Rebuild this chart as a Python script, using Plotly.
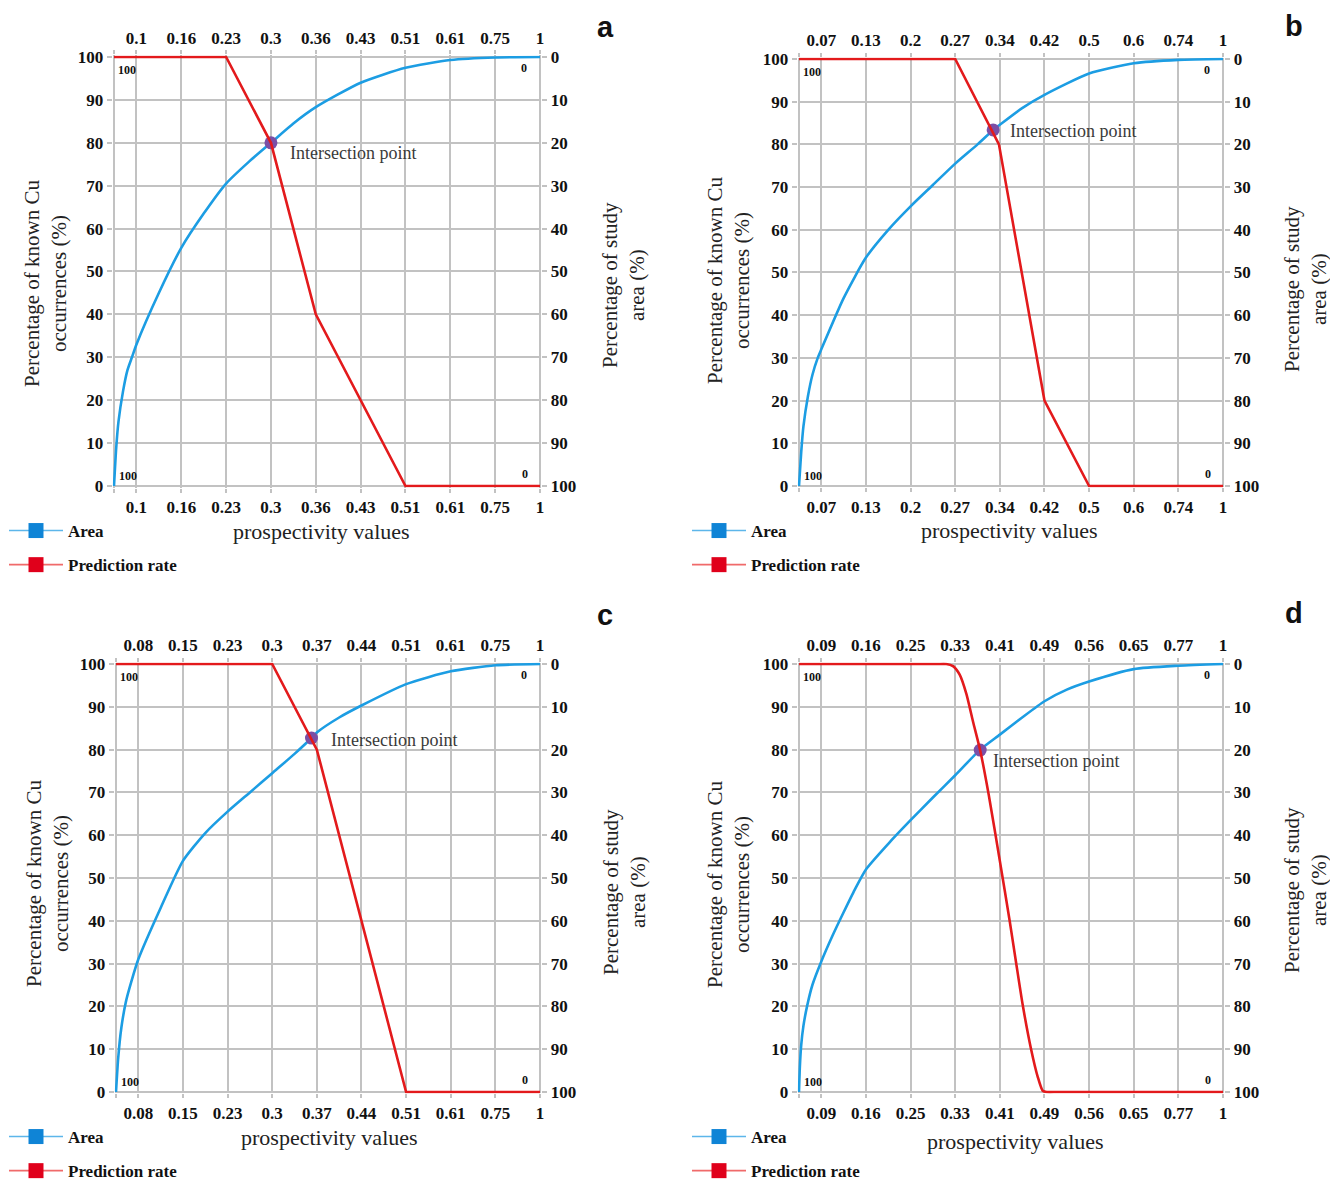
import plotly.graph_objects as go

# the page body adds an 8 px margin, so the figure is a little smaller than the window
OX, OY = 8, 8
W, H = 1330, 1174

# x positions of the 10 labelled prospectivity classes (evenly spaced categories)
class_idx = [1, 2, 3, 4, 5, 6, 7, 8, 9, 10]

# tick labels (prospectivity values) for each panel
ticks_a = ['0.1', '0.16', '0.23', '0.3', '0.36', '0.43', '0.51', '0.61', '0.75', '1']
ticks_b = ['0.07', '0.13', '0.2', '0.27', '0.34', '0.42', '0.5', '0.6', '0.74', '1']
ticks_c = ['0.08', '0.15', '0.23', '0.3', '0.37', '0.44', '0.51', '0.61', '0.75', '1']
ticks_d = ['0.09', '0.16', '0.25', '0.33', '0.41', '0.49', '0.56', '0.65', '0.77', '1']

# Area curves
area_a_x = [0.5, 0.55, 0.6, 0.7, 0.8, 0.9, 1.0, 1.5, 2.0, 2.5, 3.0, 3.5, 4.0, 4.5, 5.0, 6.0, 7.0, 8.0, 9.0, 10.0]
area_a_y = [0, 9, 15, 22, 27, 30, 33, 45, 55.5, 63.5, 70.5, 75.5, 80, 84.5, 88.3, 94, 97.5, 99.3, 99.9, 100]
area_b_x = [0.5, 0.55, 0.6, 0.7, 0.8, 0.92, 1.0, 1.5, 2.0, 2.5, 3.0, 3.5, 4.0, 4.5, 4.85, 5.0, 5.5, 6.0, 7.0, 8.0, 9.0, 10.0]
area_b_y = [0, 8, 14, 21, 26, 30, 32, 44, 53.5, 60, 65.5, 70.5, 75.5, 80, 83.4, 84.6, 88.5, 91.6, 96.6, 99, 99.8, 100]
area_c_x = [0.5, 0.55, 0.62, 0.72, 0.85, 1.0, 1.5, 2.0, 2.5, 3.0, 3.5, 4.0, 4.5, 4.88, 5.0, 5.5, 6.0, 7.0, 8.0, 9.0, 10.0]
area_c_y = [0, 8, 15, 21, 26, 31, 43, 54, 60.5, 65.5, 70, 74.5, 79, 82.7, 84, 87.5, 90.3, 95.3, 98.3, 99.7, 100]
area_d_x = [0.5, 0.52, 0.55, 0.6, 0.68, 0.8, 1.0, 1.25, 1.5, 1.75, 2.0, 2.5, 3.0, 3.5, 4.0, 4.56, 5.0, 5.5, 6.0, 6.5, 7.0, 8.0, 9.0, 10.0]
area_d_y = [0, 6, 11, 15.5, 20, 25, 30.5, 36.5, 42, 47.3, 52, 58, 63.5, 68.8, 74, 80, 83.5, 87.5, 91.3, 94, 95.9, 98.8, 99.6, 100]

# Prediction rate curves
pred_a_x = [0.5, 3.0, 4.0, 5.0, 7.0, 10.0]
pred_a_y = [100, 100, 80, 40, 0, 0]
pred_b_x = [0.5, 4.0, 4.98, 6.0, 7.0, 10.0]
pred_b_y = [100, 100, 80, 20, 0, 0]
pred_c_x = [0.5, 4.0, 5.0, 7.0, 10.0]
pred_c_y = [100, 100, 80, 0, 0]
pred_d_x = [0.5, 3.0, 3.6, 3.8, 3.95, 4.1, 4.25, 4.4, 4.56, 4.75, 5.0, 5.22, 5.36, 5.51, 5.7, 5.85, 5.96, 6.05, 6.3, 10.0]
pred_d_y = [100, 100, 100, 100, 99.5, 97.5, 93, 86.5, 79.8, 69.5, 54, 40, 30.5, 20.5, 10, 3.5, 0.3, 0, 0, 0]

# intersection points
inter_a = (4.0, 80.0)
inter_b = (4.85, 83.4)
inter_c = (4.88, 82.7)
inter_d = (4.56, 79.9)

SERIF = 'Liberation Serif'
BLUE = '#1c9de3'
RED = '#e31a1c'
GRID = '#c2c2c2'
XR = [0.47, 10.03]
YR = [-0.35, 100.35]

panels = [
    dict(key='a', ticks=ticks_a, ax=area_a_x, ay=area_a_y, rx=pred_a_x, ry=pred_a_y, shape='linear',
         inter=inter_a, box=(114, 540, 57, 486), ishift=(17, -10),
         ytitle=(45, 283), rtitle=(623, 285), xtitle=(321, 531), letter=(605, 27), legend=(4, 513)),
    dict(key='b', ticks=ticks_b, ax=area_b_x, ay=area_b_y, rx=pred_b_x, ry=pred_b_y, shape='linear',
         inter=inter_b, box=(799, 1223, 59, 486), ishift=(15, -1),
         ytitle=(729, 280), rtitle=(1305, 289), xtitle=(1010, 530), letter=(1294, 26), legend=(687, 513)),
    dict(key='c', ticks=ticks_c, ax=area_c_x, ay=area_c_y, rx=pred_c_x, ry=pred_c_y, shape='linear',
         inter=inter_c, box=(116, 540, 664, 1092), ishift=(18, -2),
         ytitle=(47, 883), rtitle=(624, 892), xtitle=(329, 1137), letter=(605, 615), legend=(4, 1119)),
    dict(key='d', ticks=ticks_d, ax=area_d_x, ay=area_d_y, rx=pred_d_x, ry=pred_d_y, shape='spline',
         inter=inter_d, box=(799, 1223, 664, 1092), ishift=(11, -11),
         ytitle=(728, 884), rtitle=(1305, 890), xtitle=(1015, 1141), letter=(1294, 613), legend=(687, 1119)),
]


def fx(px):
    return (px - OX) / W


def fy(py):
    return 1 - (py - OY) / H


def ax_name(kind, n):
    return kind + 'axis' + ('' if n == 1 else str(n))


def ax_ref(kind, n):
    return kind + ('' if n == 1 else str(n))


fig = go.Figure()
annotations = []
layout = dict(width=W, height=H, margin=dict(l=0, r=0, t=0, b=0, autoexpand=False),
              paper_bgcolor='white', plot_bgcolor='white', showlegend=True)

tickfont = dict(family=SERIF, size=17, color='#111', weight='bold')

for i, p in enumerate(panels, start=1):
    x0, x1, y100, y0 = p['box']
    sx = (x1 - x0) / 9.5
    sy = (y0 - y100) / 100.0
    dx = [fx(x0 - (0.5 - XR[0]) * sx), fx(x1 + (XR[1] - 10) * sx)]
    dy = [fy(y0 - YR[0] * sy), fy(y100 - (YR[1] - 100) * sy)]

    xb, xt, yl, yr = i, i + 4, i, i + 4
    common_x = dict(range=XR, tickvals=[0.5] + class_idx, ticktext=[''] + p['ticks'],
                    zeroline=False, ticks='outside', ticklen=4, tickcolor=GRID, tickwidth=1.5,
                    tickfont=tickfont, fixedrange=True)
    common_y = dict(tickvals=list(range(0, 101, 10)), zeroline=False, ticks='outside', ticklen=5,
                    tickcolor=GRID, tickwidth=1.5, tickfont=tickfont, fixedrange=True)
    layout[ax_name('x', xb)] = dict(domain=dx, anchor=ax_ref('y', yl), showgrid=True, gridcolor=GRID,
                                    gridwidth=1.6, **common_x)
    layout[ax_name('x', xt)] = dict(overlaying=ax_ref('x', xb), anchor=ax_ref('y', yl), side='top',
                                    showgrid=False, **common_x)
    layout[ax_name('y', yl)] = dict(domain=dy, anchor=ax_ref('x', xb), range=YR, showgrid=True,
                                    gridcolor=GRID, gridwidth=1.6, **common_y)
    layout[ax_name('y', yr)] = dict(overlaying=ax_ref('y', yl), anchor=ax_ref('x', xb), side='right',
                                    range=[YR[1], YR[0]], showgrid=False, **common_y)

    leg = 'legend' if i == 1 else 'legend%d' % i

    # curves
    fig.add_trace(go.Scatter(x=p['ax'], y=p['ay'], mode='lines',
                             line=dict(color=BLUE, width=2.6, shape='spline', smoothing=0.6),
                             xaxis=ax_ref('x', xb), yaxis=ax_ref('y', yl), showlegend=False, hoverinfo='skip'))
    fig.add_trace(go.Scatter(x=p['rx'], y=[100 - v for v in p['ry']], mode='lines',
                             line=dict(color=RED, width=2.6, shape=p['shape'], smoothing=0.6),
                             xaxis=ax_ref('x', xt), yaxis=ax_ref('y', yr), showlegend=False, hoverinfo='skip'))
    fig.add_trace(go.Scatter(x=[p['inter'][0]], y=[p['inter'][1]], mode='markers',
                             marker=dict(color='#7b4fa6', size=13),
                             xaxis=ax_ref('x', xb), yaxis=ax_ref('y', yl), showlegend=False, hoverinfo='skip'))

    # legend entries
    fig.add_trace(go.Scatter(x=[None], y=[None], mode='lines+markers', name='Area',
                             line=dict(color='#5db6ea', width=1.6),
                             marker=dict(symbol='square', size=15, color='#0f84d6'),
                             xaxis=ax_ref('x', xb), yaxis=ax_ref('y', yl), legend=leg,
                             legendgroup=p['key'] + 'area'))
    fig.add_trace(go.Scatter(x=[None], y=[None], mode='lines+markers', name='Prediction rate',
                             line=dict(color='#f06a6a', width=1.6),
                             marker=dict(symbol='square', size=15, color='#e0001b'),
                             xaxis=ax_ref('x', xb), yaxis=ax_ref('y', yl), legend=leg,
                             legendgroup=p['key'] + 'pred'))
    lx, ly = p['legend']
    layout[leg] = dict(x=fx(lx), y=fy(ly), xanchor='left', yanchor='top',
                       font=dict(family=SERIF, size=17, color='#111', weight='bold'),
                       bgcolor='rgba(0,0,0,0)', itemwidth=54, tracegroupgap=9, orientation='v')

    # intersection label
    annotations.append(dict(x=p['inter'][0], y=p['inter'][1], xref=ax_ref('x', xb), yref=ax_ref('y', yl),
                            text='Intersection point', showarrow=False, xanchor='left', yanchor='middle',
                            xshift=p['ishift'][0], yshift=p['ishift'][1],
                            font=dict(family=SERIF, size=18, color='#3a3a3a')))

    # small end labels
    small = dict(family=SERIF, size=12, color='#111', weight='bold')
    for tx, (qx, qy) in [('100', (x0 + 13, y100 + 13)), ('100', (x0 + 14, y0 - 10)),
                         ('0', (x1 - 16, y100 + 11)), ('0', (x1 - 15, y0 - 12))]:
        annotations.append(dict(x=fx(qx), y=fy(qy), xref='paper', yref='paper', text=tx,
                                showarrow=False, xanchor='center', yanchor='middle', font=small))

    # axis titles
    tx, ty = p['ytitle']
    annotations.append(dict(x=fx(tx), y=fy(ty), xref='paper', yref='paper',
                            text='Percentage of known Cu<br>occurrences (%)', textangle=-90,
                            showarrow=False, xanchor='center', yanchor='middle',
                            font=dict(family=SERIF, size=21, color='#222')))
    tx, ty = p['rtitle']
    annotations.append(dict(x=fx(tx), y=fy(ty), xref='paper', yref='paper',
                            text='Percentage of study<br>area (%)', textangle=-90,
                            showarrow=False, xanchor='center', yanchor='middle',
                            font=dict(family=SERIF, size=21, color='#222')))
    tx, ty = p['xtitle']
    annotations.append(dict(x=fx(tx), y=fy(ty), xref='paper', yref='paper',
                            text='prospectivity values', showarrow=False, xanchor='center', yanchor='middle',
                            font=dict(family=SERIF, size=22, color='#222')))
    tx, ty = p['letter']
    annotations.append(dict(x=fx(tx), y=fy(ty), xref='paper', yref='paper',
                            text=p['key'], showarrow=False, xanchor='center', yanchor='middle',
                            font=dict(family='Liberation Sans', size=29, color='#111', weight='bold')))

layout['annotations'] = annotations
fig.update_layout(**layout)

fig.write_html('out.html')
